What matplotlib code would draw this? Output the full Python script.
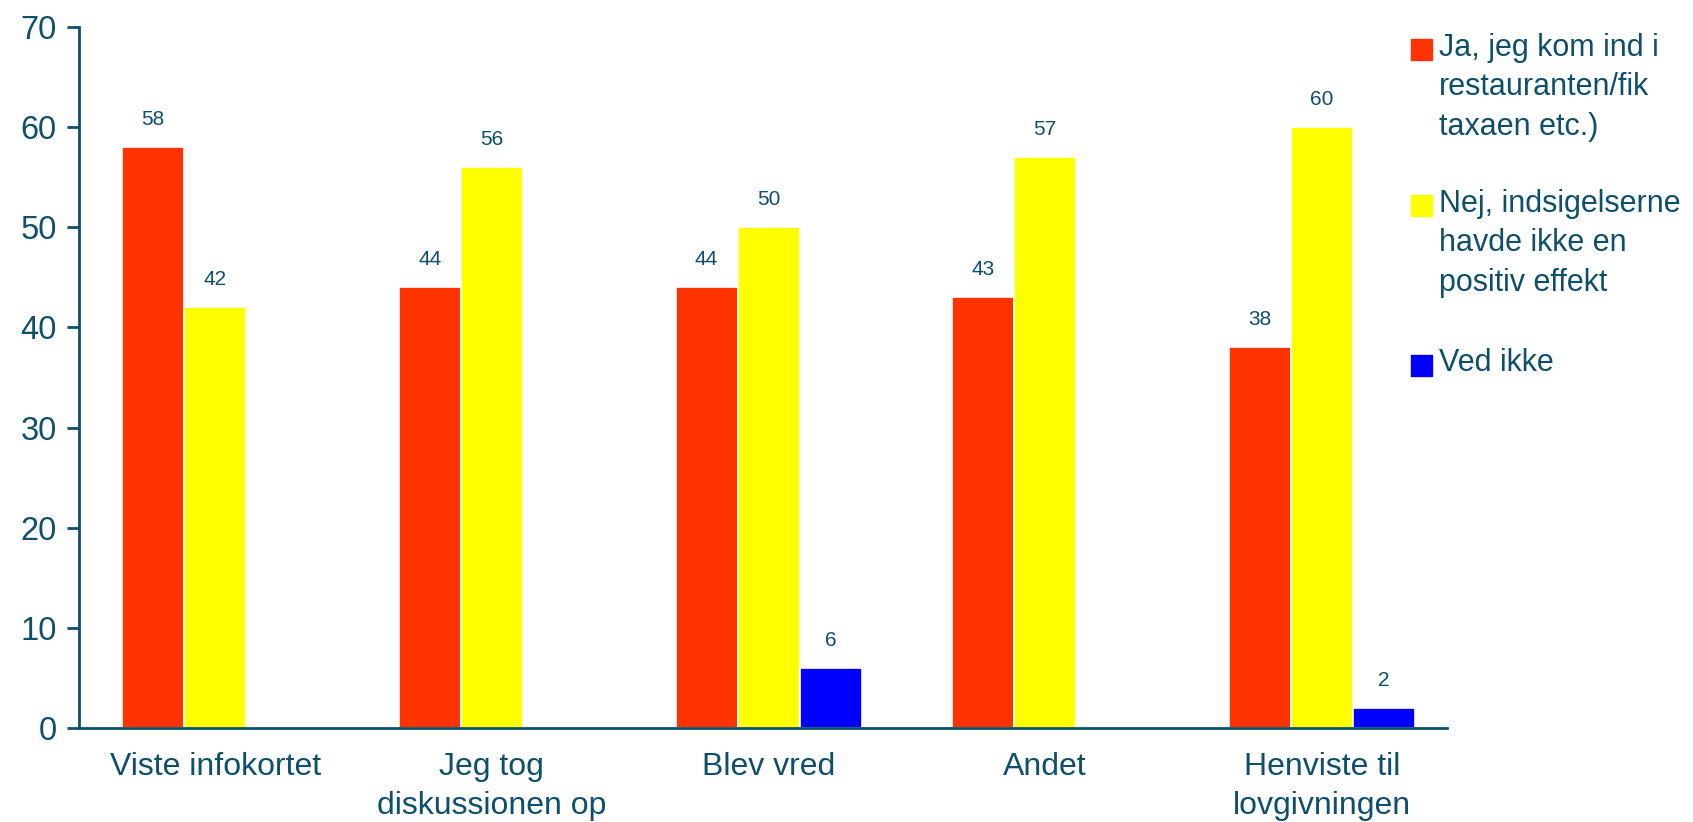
import matplotlib
matplotlib.use("Agg")
import matplotlib.pyplot as plt
import numpy as np
from matplotlib.patches import Rectangle

categories = ["Viste infokortet", "Jeg tog\ndiskussionen op", "Blev vred", "Andet", "Henviste til\nlovgivningen"]
series_names = ["Ja, jeg kom ind i\nrestauranten/fik\ntaxaen etc.)",
                "Nej, indsigelserne\nhavde ikke en\npositiv effekt",
                "Ved ikke"]
ja = [58, 44, 44, 43, 38]
nej = [42, 56, 50, 57, 60]
ved_ikke = [None, None, 6, None, 2]
yticks = [0, 10, 20, 30, 40, 50, 60, 70]

colors = ["#FF3300", "#FFFF00", "#0000FF"]
txt = "#0E4F6B"

plt.rcParams['font.family'] = ['Liberation Sans', 'DejaVu Sans']

fig = plt.figure(figsize=(16.93, 8.22), dpi=100)
ax = fig.add_axes([79/1693, 1 - 728/822, (1447 - 79)/1693, (728 - 27)/822])

x = np.arange(len(categories))
w = 0.224
for i, vals in enumerate([ja, nej, ved_ikke]):
    for xi, v in zip(x, vals):
        if v is None:
            continue
        xpos = xi + (i - 1) * w
        ax.bar(xpos, v, width=w, color=colors[i], edgecolor="white", linewidth=1.2, zorder=2)
        ax.annotate(str(v), (xpos, v), xytext=(0, 13), textcoords="offset points",
                    ha="center", va="bottom", fontsize=15, color=txt)

ax.set_xlim(-0.492, 4.452)
ax.set_ylim(0, 70)
ax.set_yticks(yticks)
ax.set_xticks(x)
ax.set_xticklabels(categories, linespacing=1.42)
ax.tick_params(axis="y", direction="out", length=9, width=2, color=txt, labelsize=23.5,
               labelcolor=txt, pad=7)
ax.tick_params(axis="x", length=0, labelsize=23, labelcolor=txt, pad=17)
for s in ["top", "right"]:
    ax.spines[s].set_visible(False)
for s in ["left", "bottom"]:
    ax.spines[s].set_color(txt)
    ax.spines[s].set_linewidth(2)

# legend drawn manually
leg_tops = [50, 206, 365]
for name, c, yc in zip(series_names, colors, leg_tops):
    fig.patches.append(Rectangle((1411/1693, 1 - (yc + 10.5)/822), 21/1693, 21/822,
                                 transform=fig.transFigure, color=c, figure=fig))
    fig.text(1439/1693, 1 - (yc - 17)/822, name, fontsize=22, color=txt,
             va="top", ha="left", linespacing=1.41)

fig.savefig("out.png", dpi=100)
